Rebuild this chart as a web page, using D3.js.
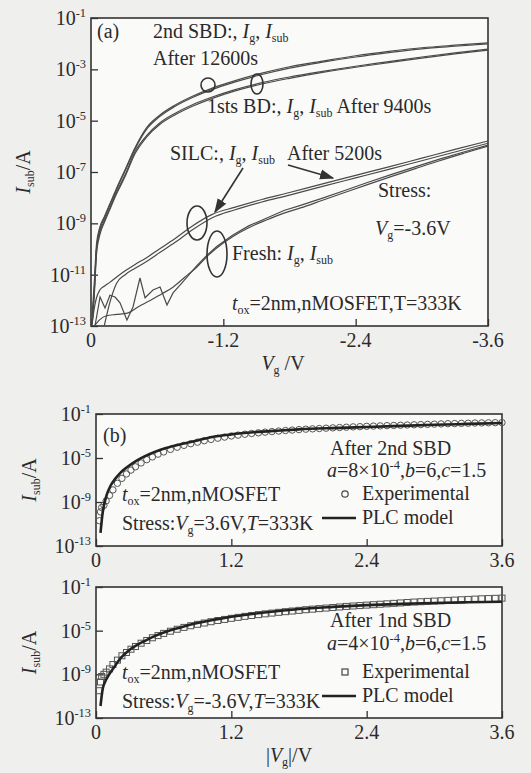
<!DOCTYPE html>
<html><head><meta charset="utf-8">
<script src="https://cdn.jsdelivr.net/npm/d3@7/dist/d3.min.js"></script>
<style>
html,body{margin:0;padding:0;background:#efefed;}
svg{display:block;}
</style></head>
<body>
<svg id="c" width="531" height="773" font-family="'Liberation Serif', 'DejaVu Serif', serif"></svg>
<script>
// ---------- Panel (a) data: log10(I / A) versus gate voltage Vg (V) ----------
const vA = [-0.01,-0.03,-0.05,-0.08,-0.12,-0.17,-0.23,-0.31,-0.40,-0.50,-0.62,-0.76,-0.92,-1.10,-1.30,-1.55,-1.80,-2.10,-2.40,-2.70,-3.00,-3.30,-3.60];
const sbd2Ig   = [-12.6,-11.3,-9.8,-9.15,-8.75,-8.25,-7.65,-6.9,-6.05,-5.3,-4.8,-4.4,-4.05,-3.73,-3.45,-3.15,-2.9,-2.68,-2.47,-2.3,-2.16,-2.06,-1.97];
const sbd2Isub = [-12.9,-11.6,-10.0,-9.25,-8.8,-8.3,-7.7,-6.95,-6.1,-5.36,-4.85,-4.45,-4.1,-3.78,-3.5,-3.2,-2.95,-2.72,-2.52,-2.35,-2.2,-2.1,-2.01];
const bd1Ig    = [-12.9,-11.6,-10.0,-9.35,-8.9,-8.4,-7.8,-7.1,-6.2,-5.6,-5.1,-4.72,-4.38,-4.08,-3.8,-3.52,-3.3,-3.08,-2.88,-2.7,-2.52,-2.36,-2.21];
const bd1Isub  = [-13.0,-11.8,-10.2,-9.45,-8.98,-8.47,-7.87,-7.17,-6.28,-5.66,-5.16,-4.78,-4.44,-4.13,-3.85,-3.57,-3.35,-3.12,-2.92,-2.74,-2.56,-2.4,-2.25];
const silcIg   = [-12.9,-12.3,-11.9,-11.6,-11.45,-11.3,-11.1,-10.85,-10.6,-10.35,-10.0,-9.6,-9.1,-8.65,-8.38,-8.07,-7.8,-7.46,-7.13,-6.8,-6.46,-6.12,-5.79];
const silcIsub = [null,null,null,null,-13.0,-12.1,-11.35,-11.0,-10.75,-10.5,-10.15,-9.75,-9.25,-8.78,-8.48,-8.17,-7.9,-7.56,-7.23,-6.9,-6.56,-6.22,-5.88];
const vFresh    = [-0.03,-0.08,-0.14,-0.23,-0.33,-0.43,-0.54,-0.64,-0.74,-0.85,-0.96,-1.05,-1.14,-1.28,-1.43,-1.59,-1.75,-1.90,-2.10,-2.30,-2.50,-2.72,-2.94,-3.16,-3.38,-3.60];
const freshIsub = [-13.0,-12.75,-12.6,-12.55,-12.5,-12.25,-12.0,-11.75,-11.5,-11.1,-10.7,-10.3,-9.96,-9.53,-9.17,-8.87,-8.6,-8.4,-8.1,-7.8,-7.5,-7.18,-6.87,-6.56,-6.27,-5.99];
const vFreshIg  = [-0.036,-0.082,-0.127,-0.172,-0.218,-0.263,-0.326,-0.381,-0.444,-0.49,-0.562,-0.626,-0.689,-0.744,-0.825,-0.96,-1.05,-1.14,-1.28,-1.43,-1.59,-1.75,-1.90,-2.10,-2.30,-2.50,-2.72,-2.94,-3.16,-3.38,-3.60];
const freshIg   = [-13.0,-11.87,-12.3,-11.8,-11.87,-12.1,-12.77,-12.26,-11.13,-11.9,-11.6,-11.48,-12.18,-11.71,-11.32,-10.65,-10.25,-9.9,-9.47,-9.1,-8.8,-8.5,-8.3,-8.02,-7.72,-7.42,-7.1,-6.8,-6.5,-6.22,-5.95];
const xTicksA = [0,-1.2,-2.4,-3.6];
const yTicksA = [-1,-3,-5,-7,-9,-11,-13];

// ---------- Panels (b) and (c): PLC model and experiment, log10(Isub / A) versus |Vg| ----------
const vModel = [0.04,0.06,0.08,0.10,0.13,0.17,0.22,0.28,0.35,0.43,0.52,0.62,0.75,0.90,1.05,1.20,1.40,1.60,1.80,2.10,2.40,2.70,3.00,3.30,3.60];
const modelB = [-11.8,-9.9,-8.9,-8.2,-7.5,-6.9,-6.3,-5.8,-5.3,-4.85,-4.45,-4.1,-3.75,-3.4,-3.05,-2.85,-2.66,-2.52,-2.4,-2.28,-2.18,-2.08,-1.98,-1.9,-1.82];
const modelC = [-11.9,-10.3,-9.7,-9.3,-8.8,-8.2,-7.5,-6.9,-6.4,-5.95,-5.5,-5.1,-4.7,-4.3,-4.0,-3.72,-3.45,-3.22,-3.02,-2.82,-2.66,-2.55,-2.46,-2.4,-2.35];
const vExp = [0.03,0.04,0.05,0.07,0.09,0.12,0.15,0.19,0.23,0.27,0.31,0.35,0.40,0.45,0.50,0.55,0.60,0.66,0.72,0.78,0.84,0.90,0.96,
  1.02,1.08,1.14,1.20,1.26,1.32,1.38,1.44,1.50,1.56,1.62,1.68,1.74,1.80,1.86,1.92,1.98,2.04,2.10,2.16,2.22,2.28,2.34,2.40,2.46,2.52,2.58,2.64,2.70,2.76,2.82,2.88,2.94,3.00,3.06,3.12,3.18,3.24,3.30,3.36,3.42,3.48,3.54,3.60];
const expB = [-10.7,-9.9,-9.5,-9.3,-8.9,-8.4,-7.9,-7.3,-6.85,-6.45,-6.1,-5.8,-5.45,-5.15,-4.9,-4.65,-4.45,-4.22,-4.02,-3.85,-3.7,-3.56,-3.43,
  -3.31,-3.2,-3.1,-3.0,-2.92,-2.84,-2.77,-2.71,-2.65,-2.6,-2.55,-2.5,-2.46,-2.42,-2.38,-2.35,-2.32,-2.29,-2.26,-2.23,-2.2,-2.17,-2.15,-2.12,-2.1,-2.08,-2.06,-2.04,-2.02,-2.0,-1.98,-1.96,-1.94,-1.92,-1.9,-1.88,-1.87,-1.85,-1.84,-1.82,-1.81,-1.8,-1.79,-1.78];
const expC = [-10.5,-9.7,-9.2,-9.0,-8.8,-8.5,-8.1,-7.7,-7.3,-7.0,-6.7,-6.45,-6.15,-5.9,-5.65,-5.45,-5.25,-5.05,-4.87,-4.7,-4.55,-4.42,-4.3,
  -4.18,-4.07,-3.97,-3.87,-3.78,-3.69,-3.61,-3.53,-3.46,-3.39,-3.32,-3.26,-3.2,-3.14,-3.08,-3.03,-2.98,-2.93,-2.88,-2.83,-2.78,-2.74,-2.7,-2.66,-2.62,-2.58,-2.54,-2.5,-2.46,-2.42,-2.38,-2.35,-2.32,-2.29,-2.26,-2.23,-2.2,-2.17,-2.14,-2.11,-2.08,-2.06,-2.04,-2.02];
const xTicksBC = [0,1.2,2.4,3.6];
const yTicksBC = [-1,-5,-9,-13];

// ---------- drawing ----------
const FONT = "'Liberation Serif', 'DejaVu Serif', serif";
const svg = d3.select("#c");
const INK = "#333";

function rich(g, x, y, parts, size, anchor){
  const t = g.append("text").attr("x", x).attr("y", y).attr("font-size", size)
    .attr("font-family", FONT).attr("fill", "#2a2a2a")
    .attr("text-anchor", anchor || "start");
  let shift = 0;
  parts.forEach(p => {
    const o = (typeof p === "string") ? {t:p} : p;
    const ts = t.append("tspan").text(o.t);
    let target = 0;
    if (o.sub) { target = size*0.2; ts.attr("font-size", size*0.6); }
    if (o.sup) { target = -size*0.4; ts.attr("font-size", size*0.62); }
    ts.attr("dy", target - shift); shift = target;
    if (o.i) ts.attr("font-style", "italic");
  });
  return t;
}
const I_g   = [{t:"I", i:true},{t:"g", sub:true}];
const I_sub = [{t:"I", i:true},{t:"sub", sub:true}];

function frame(g, x, y, x0, x1, y0, y1, xt, yt, xfmt, tickFS){
  g.append("rect").attr("x", x0).attr("y", y1).attr("width", x1-x0).attr("height", y0-y1)
    .attr("fill", "#fafaf9");
  const ax = g.append("g").attr("transform", `translate(0,${y0})`)
    .call(d3.axisBottom(x).tickValues(xt).tickSize(-7).tickSizeOuter(0).tickFormat(""));
  const ay = g.append("g").attr("transform", `translate(${x0},0)`)
    .call(d3.axisLeft(y).tickValues(yt.map(v => Math.pow(10, v))).tickSize(-7).tickSizeOuter(0).tickFormat(""));
  [ax, ay].forEach(a => { a.selectAll("line,path").attr("stroke", INK).attr("stroke-width", 1.3); a.select(".domain").remove(); });
  g.append("rect").attr("x", x0).attr("y", y1).attr("width", x1-x0).attr("height", y0-y1)
    .attr("fill", "none").attr("stroke", INK).attr("stroke-width", 1.6);
  xt.forEach(v => rich(g, x(v), y0 + 21, [xfmt(v)], tickFS, "middle"));
  yt.forEach(v => rich(g, x0 - 5, y(Math.pow(10, v)) + 7, ["10", {t: String(v), sup:true}], tickFS, "end"));
}
const fmtA = v => v === 0 ? "0" : v.toFixed(1);

// ----- panel (a)
{
  const g = svg.append("g");
  const x0 = 91, x1 = 488, y0 = 326, y1 = 18;
  const x = d3.scaleLinear().domain([0, -3.6]).range([x0, x1]);
  const y = d3.scaleLog().domain([1e-13, 1e-1]).range([y0, y1]);
  frame(g, x, y, x0, x1, y0, y1, xTicksA, yTicksA, fmtA, 20);
  g.append("clipPath").attr("id", "clipA").append("rect")
    .attr("x", x0).attr("y", y1).attr("width", x1-x0).attr("height", y0-y1);
  const cg = g.append("g").attr("clip-path", "url(#clipA)");
  const smooth = d3.line().defined(d => d[1] !== null).x(d => x(d[0])).y(d => y(Math.pow(10, d[1]))).curve(d3.curveMonotoneX);
  const straight = d3.line().x(d => x(d[0])).y(d => y(Math.pow(10, d[1])));
  const series = [[vA, sbd2Ig],[vA, sbd2Isub],[vA, bd1Ig],[vA, bd1Isub],[vA, silcIg],[vA, silcIsub],[vFresh, freshIsub]];
  series.forEach(([vs, ls]) => {
    cg.append("path").attr("d", smooth(vs.map((v,i) => [v, ls[i]])))
      .attr("fill", "none").attr("stroke", "#4a4a4a").attr("stroke-width", 1.2);
  });
  cg.append("path").attr("d", straight(vFreshIg.map((v,i) => [v, freshIg[i]])))
    .attr("fill", "none").attr("stroke", "#4a4a4a").attr("stroke-width", 1.2);

  const ell = (cx, cy, rx, ry) => g.append("ellipse").attr("cx", cx).attr("cy", cy).attr("rx", rx).attr("ry", ry)
    .attr("fill", "none").attr("stroke", INK).attr("stroke-width", 1.6);
  ell(208, 85, 7, 7); ell(257, 84, 6, 10); ell(197, 223, 10, 17); ell(217, 254, 10, 23);
  const defs = svg.append("defs");
  defs.append("marker").attr("id", "ah").attr("viewBox", "0 0 10 10").attr("refX", 9).attr("refY", 5)
    .attr("markerWidth", 9).attr("markerHeight", 9).attr("orient", "auto")
    .append("path").attr("d", "M0,1.5L10,5L0,8.5Z").attr("fill", INK);
  g.append("line").attr("x1", 243).attr("y1", 168).attr("x2", 215).attr("y2", 212)
    .attr("stroke", INK).attr("stroke-width", 1.6).attr("marker-end", "url(#ah)");
  g.append("line").attr("x1", 288).attr("y1", 165).attr("x2", 333).attr("y2", 178)
    .attr("stroke", INK).attr("stroke-width", 1.6).attr("marker-end", "url(#ah)");

  const F = 20;
  rich(g, 97, 38, ["(a)"], F);
  rich(g, 153, 38, ["2nd SBD:, ", ...I_g, ", ", ...I_sub], F);
  rich(g, 153, 65, ["After 12600s"], F);
  rich(g, 207, 113, ["1sts BD:, ", ...I_g, ", ", ...I_sub, " After 9400s"], F);
  rich(g, 170, 160, ["SILC:, ", ...I_g, ", ", ...I_sub], F);
  rich(g, 287, 160, ["After 5200s"], F);
  rich(g, 378, 197, ["Stress:"], F);
  rich(g, 375, 235, [{t:"V", i:true},{t:"g", sub:true},"=-3.6V"], F);
  rich(g, 232, 260, ["Fresh: ", ...I_g, ", ", ...I_sub], F);
  rich(g, 232, 310, [{t:"t", i:true},{t:"ox", sub:true},"=2nm,nMOSFET,T=333K"], F);
  rich(g, 283, 370, [{t:"V", i:true},{t:"g", sub:true}," /V"], F, "middle");
  const yl = rich(g, 0, 0, [...I_sub, "/A"], F, "middle");
  yl.attr("transform", "translate(30,172) rotate(-90)");
}

// ----- panels (b) and (c)
function panelBC(top, bottom, model, exp, marker, labels){
  const g = svg.append("g");
  const x0 = 96, x1 = 502, y0 = bottom, y1 = top;
  const x = d3.scaleLinear().domain([0, 3.6]).range([x0, x1]);
  const y = d3.scaleLog().domain([1e-13, 1e-1]).range([y0, y1]);
  frame(g, x, y, x0, x1, y0, y1, xTicksBC, yTicksBC, fmtA, 20);
  const line = d3.line().x(d => x(d[0])).y(d => y(Math.pow(10, d[1]))).curve(d3.curveMonotoneX);
  const pts = vExp.map((v,i) => [v, exp[i]]);
  if (marker === "circle") {
    g.selectAll(null).data(pts).join("circle").attr("cx", d => x(d[0])).attr("cy", d => y(Math.pow(10, d[1])))
      .attr("r", 3.2).attr("fill", "none").attr("stroke", "#555").attr("stroke-width", 1);
  } else {
    g.selectAll(null).data(pts).join("rect").attr("x", d => x(d[0]) - 3).attr("y", d => y(Math.pow(10, d[1])) - 3)
      .attr("width", 6).attr("height", 6).attr("fill", "none").attr("stroke", "#555").attr("stroke-width", 1);
  }
  g.append("path").attr("d", line(vModel.map((v,i) => [v, model[i]])))
    .attr("fill", "none").attr("stroke", "#222").attr("stroke-width", 2.6);
  const F = 20;
  if (labels.tag) rich(g, 103, top + 28, [labels.tag], F);
  rich(g, 330, labels.ly[0], [labels.after], F);
  rich(g, 327, labels.ly[1], [{t:"a", i:true}, "=" + labels.a + "×10", {t:"-4", sup:true}, ",", {t:"b", i:true}, "=6,", {t:"c", i:true}, "=1.5"], F);
  const lx = 345;
  if (marker === "circle") g.append("circle").attr("cx", lx).attr("cy", labels.ly[2] - 6).attr("r", 3.2).attr("fill", "none").attr("stroke", "#444").attr("stroke-width", 1.2);
  else g.append("rect").attr("x", lx - 3).attr("y", labels.ly[2] - 9).attr("width", 6).attr("height", 6).attr("fill", "none").attr("stroke", "#444").attr("stroke-width", 1.2);
  rich(g, 362, labels.ly[2], ["Experimental"], F);
  g.append("line").attr("x1", 322).attr("x2", 356).attr("y1", labels.ly[3] - 6).attr("y2", labels.ly[3] - 6).attr("stroke", "#222").attr("stroke-width", 2.6);
  rich(g, 362, labels.ly[3], ["PLC model"], F);
  rich(g, 122, labels.ly[2] + 1, [{t:"t", i:true},{t:"ox", sub:true},"=2nm,nMOSFET"], F);
  rich(g, 122, labels.ly[3] + 6, ["Stress:", {t:"V", i:true},{t:"g", sub:true}, labels.stress, ",", {t:"T", i:true}, "=333K"], F);
  const yl = rich(g, 0, 0, [...I_sub, "/A"], F, "middle");
  yl.attr("transform", `translate(36,${(top+bottom)/2}) rotate(-90)`);
  return g;
}
panelBC(414, 546, modelB, expB, "circle", {tag:"(b)", after:"After 2nd SBD", a:"8", ly:[455,477,500,524], stress:"=3.6V"});
const gc = panelBC(587, 718, modelC, expC, "square", {tag:null, after:"After 1nd SBD", a:"4", ly:[627,650,678,702], stress:"=-3.6V"});
rich(gc, 289, 762, ["|", {t:"V", i:true}, {t:"g", sub:true}, "|/V"], 20, "middle");
</script>
</body></html>
